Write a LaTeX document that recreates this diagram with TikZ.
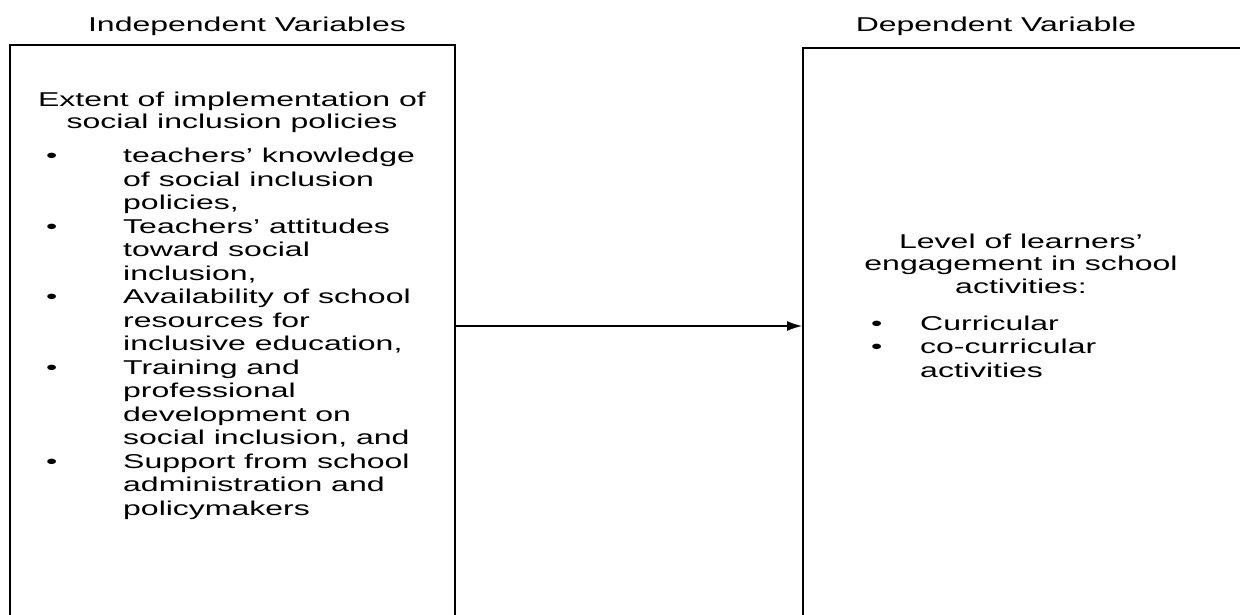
\documentclass[tikz,border=0pt]{standalone}
\usepackage{fontspec}
\setmainfont[FakeStretch=1.6]{Liberation Sans}
\usetikzlibrary{positioning, arrows.meta}

\begin{document}
\begin{tikzpicture}[x=1pt, y=-1pt,
    varbox/.style={draw, line width=2pt, anchor=north west, minimum width=445pt, minimum height=700pt, inner sep=0pt},
    txt/.style={inner sep=0pt, font=\fontsize{20}{23.5}\selectfont}]
    \useasboundingbox (0,0) rectangle (1240,615);
    \clip (0,0) rectangle (1240,615);

    % the two boxes run past the lower edge
    \node[varbox] (indep) at (9,44) {};
    \node[varbox, minimum width=450pt] (dep) at (802,47) {};

    \node[txt, anchor=base] (indeptitle) at (247,32) {Independent Variables};
    \node[txt, anchor=base] (deptitle) at (996,32) {Dependent Variable};

    \node[txt, anchor=base] (extent) at (232,107) {\begin{tabular}[t]{@{}c@{}}Extent of implementation of\\[-2pt] social inclusion policies\end{tabular}};
    \node[txt, anchor=base west] (factors) at (46,163) {\begin{tabular}[t]{@{}p{77pt}@{}l@{}}
        • & teachers' knowledge\\
          & of social inclusion\\
          & policies,\\
        • & Teachers' attitudes\\
          & toward social\\
          & inclusion,\\
        • & Availability of school\\
          & resources for\\
          & inclusive education,\\
        • & Training and\\
          & professional\\
          & development on\\
          & social inclusion, and\\
        • & Support from school\\
          & administration and\\
          & policymakers
    \end{tabular}};

    \node[txt, anchor=base] (level) at (1021,248) {\begin{tabular}[t]{@{}c@{}}Level of learners'\\[-1pt] engagement in school\\[-1pt] activities:\end{tabular}};
    \node[txt, anchor=base west] (kinds) at (871,330) {\begin{tabular}[t]{@{}p{49pt}@{}l@{}}
        • & Curricular\\
        • & co-curricular\\
          & activities
    \end{tabular}};

    \coordinate (tail) at (indep.east |- 0,326);
    \draw[-{Latex[length=15pt, width=10pt]}, line width=1.3pt] (tail) -- (tail -| dep.west);
\end{tikzpicture}
\end{document}
